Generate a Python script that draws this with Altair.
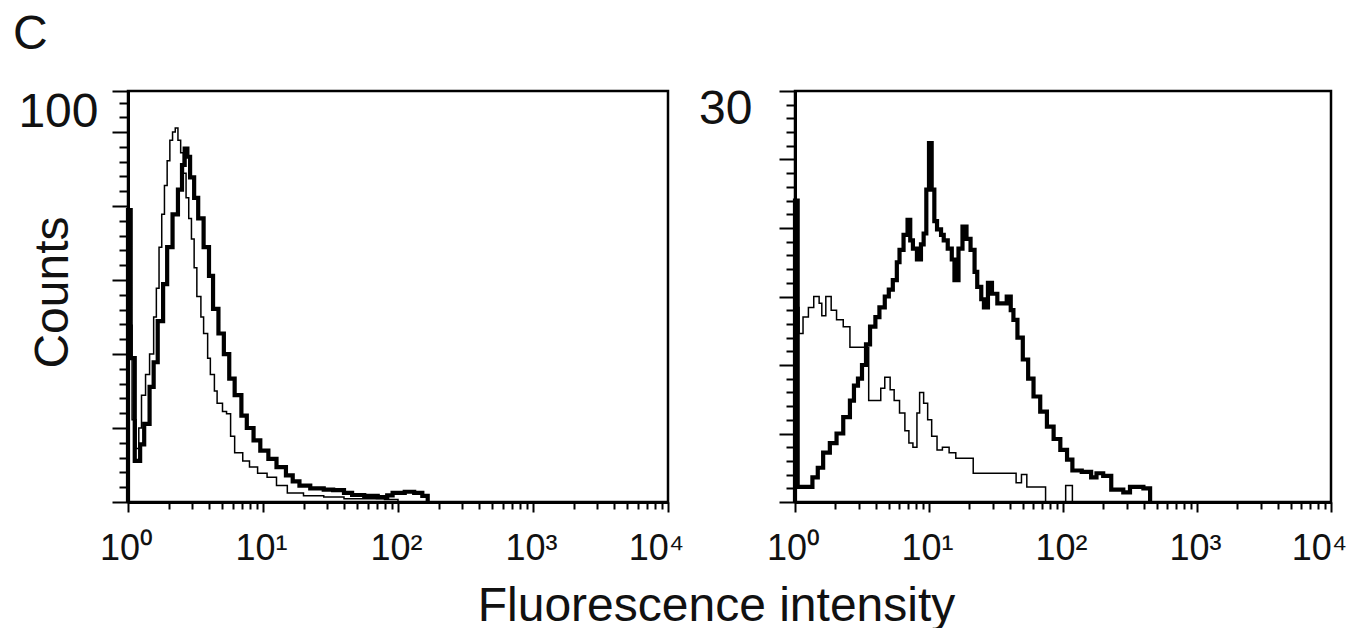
import altair as alt
import pandas as pd

# ---------------- data (intensity, counts) ----------------
# Left panel, counts 0-100
LEFT_BOLD = [(1.0, 0), (1.0, 71), (1.047, 35), (1.122, 10), (1.230, 14), (1.318, 19), (1.445, 28),
             (1.549, 34), (1.660, 44), (1.820, 53), (1.950, 62), (2.138, 70), (2.344, 76), (2.512, 82),
             (2.630, 86), (2.754, 84), (2.884, 79), (3.090, 74), (3.311, 69), (3.631, 62), (3.981, 55),
             (4.266, 47), (4.677, 41), (5.129, 36), (5.623, 30), (6.166, 26), (6.918, 21), (7.586, 18),
             (8.511, 15), (9.550, 12.5), (10.96, 10.5), (12.59, 8.5), (14.79, 6.5), (16.60, 5), (18.62, 4),
             (22.39, 3.3), (28.18, 3), (33.11, 2.9), (39.81, 2.2), (45.71, 1.7), (56.23, 1.5), (70.79, 1.2),
             (83.18, 1.6), (91.20, 2.2), (112.2, 2.5), (131.8, 2.2), (151.4, 1.5), (166.0, 0)]
LEFT_THIN = [(1.0, 0), (1.0, 43), (1.072, 20), (1.148, 13), (1.202, 18), (1.259, 26), (1.349, 31),
             (1.445, 36), (1.549, 45), (1.622, 52), (1.698, 62), (1.778, 70), (1.862, 77), (1.950, 83),
             (2.042, 88), (2.138, 90), (2.239, 91), (2.344, 88), (2.455, 85), (2.570, 80), (2.692, 74),
             (2.818, 69), (2.951, 64), (3.090, 57), (3.236, 50), (3.467, 45), (3.631, 41), (3.890, 35),
             (4.074, 31), (4.365, 27), (4.571, 24), (5.012, 22), (5.370, 21.5), (5.754, 16), (6.166, 12),
             (7.079, 10), (7.943, 8.5), (9.120, 7), (10.72, 6), (12.59, 4), (15.14, 2.2), (19.95, 1.5),
             (28.18, 1.2), (39.81, 0.8), (79.43, 0.6), (100.0, 0)]
# Right panel, counts 0-30
RIGHT_BOLD = [(1.0, 0), (1.0, 22), (1.047, 1.1), (1.349, 1.8), (1.479, 2.5), (1.622, 3.6), (1.820, 4.3),
              (2.042, 5), (2.291, 6.2), (2.570, 7.4), (2.754, 8.5), (2.951, 9), (3.162, 10), (3.388, 11.5),
              (3.631, 12.8), (3.981, 13.5), (4.266, 14.2), (4.677, 15), (5.012, 15.5), (5.370, 16.2),
              (5.754, 17.5), (6.026, 18.4), (6.457, 19.5), (6.918, 20.6), (7.244, 19.1), (7.586, 18.5),
              (8.128, 17.7), (8.710, 18.8), (9.120, 19.6), (9.550, 22.8), (10.0, 26.2), (10.47, 22.8),
              (10.96, 20.5), (11.48, 19.9), (12.30, 19.5), (12.88, 19.1), (13.80, 18.5), (14.79, 17.7),
              (15.49, 16.2), (16.60, 18.5), (17.78, 20.1), (19.05, 19.2), (20.42, 18.4), (21.88, 16.8),
              (22.91, 15.7), (24.55, 14.8), (25.70, 14.2), (27.54, 16), (29.51, 15.2), (32.36, 14.5),
              (35.48, 14.5), (38.02, 15), (40.74, 14), (42.66, 13.3), (45.71, 12), (50.12, 10.4),
              (54.95, 9), (60.26, 7.7), (67.61, 6.6), (75.86, 5.5), (85.11, 4.6), (95.50, 3.8),
              (107.2, 3.1), (117.5, 2.3), (138.0, 2.2), (162.2, 1.8), (177.8, 2.1), (199.5, 1.9),
              (229.1, 0.9), (281.8, 0.7), (316.2, 1.1), (398.1, 1.0), (446.7, 0)]
RIGHT_THIN = [(1.0, 0), (1.0, 14.2), (1.072, 12.3), (1.148, 13.5), (1.259, 14.2), (1.380, 15), (1.514, 14.5),
              (1.585, 13.6), (1.698, 15), (1.862, 14), (2.042, 13.3), (2.291, 12.8), (2.570, 11.3),
              (3.548, 7.4), (4.365, 8.3), (4.677, 9.1), (5.129, 8.2), (5.495, 7.4), (6.026, 6.5),
              (6.607, 5.2), (7.079, 4.3), (7.586, 4.0), (8.128, 6.5), (8.511, 8.0), (9.120, 7.2),
              (9.772, 6.0), (10.47, 4.8), (11.48, 3.8), (12.59, 4.0), (14.13, 3.6), (15.85, 3.2),
              (21.38, 2.1), (44.67, 1.4), (48.98, 2.0), (53.70, 1.1), (74.13, 0), (104.7, 1.2), (117.5, 0)]

# ---------------- ticks ----------------
MAJOR_X = [1, 10, 100, 1000, 10000]
MINOR_X = [2, 3, 4, 5, 6, 7, 8, 9, 20, 30, 40, 50, 60, 70, 80, 90,
           200, 300, 400, 500, 600, 700, 800, 900, 2000, 3000, 4000, 5000, 6000, 7000, 8000, 9000]
X_LABEL_EXPR = ("datum.value == 1 ? '10⁰' : datum.value == 10 ? '10¹' : datum.value == 100 ? '10²' : "
                "datum.value == 1000 ? '10³' : '10⁴'")
LEFT_MAJOR_Y = [0, 18, 36, 54, 72, 90, 100]
LEFT_MINOR_Y = [3.6, 7.2, 10.8, 14.4, 21.6, 25.2, 28.8, 32.4, 39.6, 43.2, 46.8, 50.4,
                57.6, 61.2, 64.8, 68.4, 75.6, 79.2, 82.8, 86.4, 93.6, 97.2]
RIGHT_MAJOR_Y = [0, 5, 10, 15, 20, 25, 30]
RIGHT_MINOR_Y = [1, 2, 3, 4, 6, 7, 8, 9, 11, 12, 13, 14, 16, 17, 18, 19, 21, 22, 23, 24, 26, 27, 28, 29]

FONT = "Liberation Sans"
INK = "#111111"


def frame(points):
    df = pd.DataFrame(points, columns=["x", "y"])
    df["i"] = range(len(df))
    return df


def panel(bold, thin, ymax, major_y, minor_y, width, label_pad, label_off, first):
    xs = alt.Scale(type="log", domain=[1, 10000], nice=False)
    ys = alt.Scale(domain=[0, ymax], nice=False, zero=True)
    thin_layer = alt.Chart(frame(thin)).mark_line(
        interpolate="step-after", color="black", strokeWidth=1.5
    ).encode(
        x=alt.X("x:Q", scale=xs, axis=alt.Axis(orient="bottom", values=MINOR_X, labels=False, tickSize=7,
                                                tickWidth=2, tickColor="black", domain=False, grid=False,
                                                title=None)),
        y=alt.Y("y:Q", scale=ys, axis=alt.Axis(orient="left", values=minor_y, labels=False, tickSize=9,
                                                tickWidth=2, tickColor="black", domain=False, grid=False,
                                                title=None)),
        order="i:Q",
    )
    xaxis = dict(orient="bottom", values=MAJOR_X, labelExpr=X_LABEL_EXPR, tickSize=10, tickWidth=2,
                 tickColor="black", domain=True, domainColor="black", domainWidth=3, grid=False,
                 labelFont=FONT, labelFontSize=36, labelColor=INK, labelPadding=19, labelFlush=False,
                 labelOverlap=False,
                 labelOffset={"condition": {"test": "datum.value == 10000", "value": -12}, "value": -2})
    if first:
        xaxis.update(title="Fluorescence intensity", titleFont=FONT, titleFontSize=48, titleFontWeight="normal",
                     titleColor=INK, titleX=588, titleY=118, titleAlign="center", titleBaseline="alphabetic")
    else:
        xaxis.update(title=None)
    yaxis = dict(orient="left", values=major_y, tickSize=16, tickWidth=2, tickColor="black", domain=True,
                 domainColor="black", domainWidth=3, grid=False, labelFont=FONT, labelFontSize=48,
                 labelColor=INK, labelPadding=label_pad, labelBaseline="top", labelOverlap=False,
                 labelOffset=label_off, labelExpr=f"datum.value == {ymax} ? '{ymax}' : ''")
    if first:
        yaxis.update(title="Counts", titleFont=FONT, titleFontSize=48, titleFontWeight="normal",
                     titleColor=INK, titleX=-61, titleY=201, titleAngle=-90, titleAlign="center",
                     titleBaseline="alphabetic")
    else:
        yaxis.update(title=None)
    bold_layer = alt.Chart(frame(bold)).mark_line(
        interpolate="step-after", color="black", strokeWidth=4.2
    ).encode(
        x=alt.X("x:Q", scale=xs, axis=alt.Axis(**xaxis)),
        y=alt.Y("y:Q", scale=ys, axis=alt.Axis(**yaxis)),
        order="i:Q",
    )
    ch = alt.layer(thin_layer, bold_layer).resolve_axis(x="independent", y="independent")
    props = dict(width=width, height=411)
    if first:
        props["title"] = alt.Title("C", anchor="start", frame="group", dx=-115, dy=46, offset=37, fontSize=48,
                                   font=FONT, fontWeight="normal", color=INK, baseline="alphabetic")
    return ch.properties(**props)


left = panel(LEFT_BOLD, LEFT_THIN, 100, LEFT_MAJOR_Y, LEFT_MINOR_Y, 540, 14, -3, True)
right = panel(RIGHT_BOLD, RIGHT_THIN, 30, RIGHT_MAJOR_Y, RIGHT_MINOR_Y, 536, 27, -6, False)

chart = alt.hconcat(left, right, spacing=127, bounds="flush").properties(
    autosize=alt.AutoSizeParams(type="none"),
    padding={"left": 128, "top": 91, "right": 1220, "bottom": 537},
    background="white",
).configure_view(stroke="black", strokeWidth=2.5)

chart.save("out.html", embed_options={"renderer": "svg", "actions": False})
